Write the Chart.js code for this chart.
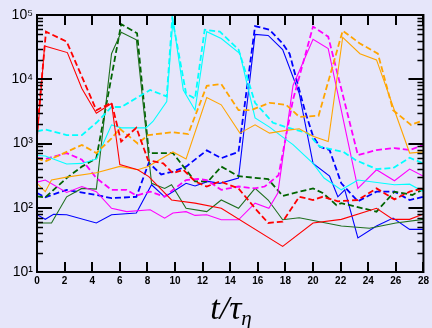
<!DOCTYPE html>
<html lang="en">
<head>
<meta charset="UTF-8">
<title>t / tau_eta</title>
<script src="https://cdn.jsdelivr.net/npm/chart.js"></script>
<style>
  html, body { margin: 0; padding: 0; background: #e6e6fa; }
  #wrap { position: relative; width: 432px; height: 328px; }
  #title { position: absolute; left: 0; width: 462px; top: 291px; text-align: center;
           font-family: 'Liberation Serif', serif; font-style: italic; font-size: 34px; line-height: 1; }
  #title sub { font-size: 21px; vertical-align: -6px; }
</style>
</head>
<body>
<div id="wrap">
  <canvas id="c" width="432" height="328"></canvas>
  <div id="title">t/τ<sub>η</sub></div>
</div>
<script>
// [t, value] pairs
const redSolid = [[0,1100],[0.55,3.3e4],[2.2,2.6e4],[3.25,7.2e3],[4.3,2950],[5.4,4200],[6.0,470],[7.3,390],[8.1,305],[9.75,132],[11.45,118],[13.35,98],[17.8,25],[20.0,58],[22.05,66],[24.6,98],[25.8,66],[27.0,66],[28,80]];
const redDashed = [[0,1500],[0.65,5.5e4],[2.15,3.85e4],[3.25,1.1e4],[4.3,3300],[5.4,4300],[6.1,1070],[6.6,1350],[7.2,1750],[8.05,550],[9.15,490],[9.85,345],[10.6,390],[11.45,257],[12.3,214],[13.25,257],[14.6,200],[15.8,98],[16.75,58],[17.8,61],[19.0,148],[20.0,132],[20.7,148],[21.8,126],[23.25,132],[24.6,200],[25.9,135],[27.0,178],[28,200]];
const greenSolid = [[0,58],[1.05,58],[2.15,148],[3.25,200],[4.3,195],[5.4,2.5e4],[6.1,5.4e4],[7.2,4.1e4],[8.3,240],[9.25,200],[9.75,228],[10.8,98],[12.3,87],[13.35,132],[14.6,98],[15.8,200],[16.75,132],[17.8,65],[19.0,70],[22.05,52],[24.1,48],[26.0,58],[28,66]];
const greenDashed = [[0,150],[0.6,145],[2.15,290],[3.25,437],[4.3,590],[5.4,1.1e4],[6.1,7.2e4],[7.25,5.2e4],[8.1,710],[9.85,710],[11.45,257],[12.4,257],[13.35,437],[14.6,310],[16.75,279],[17.8,153],[20.0,200],[20.7,170],[21.7,110],[22.05,118],[24.6,87],[25.9,178],[27.2,158],[28,195]];
const blueSolid = [[0,78],[0.6,66],[1.2,79],[2.15,78],[4.3,58],[5.4,78],[7.2,83],[8.3,228],[9.25,148],[9.85,178],[10.8,240],[11.45,218],[12.4,257],[13.25,240],[14.6,290],[15.8,5.0e4],[16.75,4.8e4],[17.8,2.9e4],[19.0,6000],[20.0,490],[21.2,310],[21.8,148],[22.3,190],[23.25,34],[24.6,52],[25.8,69],[27.0,46],[28,46]];
const blueDashed = [[0,170],[0.6,146],[2.15,190],[4.3,158],[5.4,141],[7.2,148],[8.1,500],[9.0,330],[9.85,365],[10.8,437],[12.3,780],[13.35,590],[14.6,740],[15.8,6.7e4],[16.85,5.9e4],[17.8,3.6e4],[18.3,2.5e4],[19.4,3300],[20.0,1300],[20.5,890],[21.2,790],[22.05,240],[23.25,126],[24.6,178],[25.9,178],[27.0,132],[28,148]];
const cyanSolid = [[0,650],[0.6,640],[2.15,480],[3.25,490],[4.3,575],[5.4,1950],[6.1,1750],[7.9,1750],[8.4,2200],[9.4,4500],[9.85,8.4e4],[10.6,6800],[11.45,3300],[12.3,5.5e4],[13.35,4.3e4],[14.7,2.5e4],[15.8,2500],[16.85,1800],[18.05,1150],[18.55,960],[20.0,490],[20.8,290],[22.05,190],[23.25,270],[25.9,228],[27.0,233],[28,178]];
const cyanDashed = [[0,1550],[0.6,1650],[2.15,1350],[3.25,1350],[4.3,2100],[5.4,3700],[6.1,3700],[8.2,6800],[9.4,5400],[9.8,8.9e4],[10.8,6000],[11.45,5000],[12.15,5.9e4],[13.25,5.5e4],[14.6,2.9e4],[15.8,4300],[17.1,2100],[18.05,1800],[19.6,1450],[20.5,890],[22.2,740],[23.1,550],[24.6,400],[25.8,415],[27.0,600],[28,490]];
const orangeSolid = [[0,240],[0.6,178],[1.05,270],[2.15,300],[4.3,350],[6.0,440],[7.3,390],[8.05,440],[9.85,740],[10.8,575],[12.3,5200],[13.35,4000],[14.7,1450],[15.8,1950],[16.85,1450],[18.05,1600],[19.0,1700],[20.0,1300],[21.1,1070],[22.15,4.5e4],[23.4,2.5e4],[24.6,2.0e4],[27.0,710],[28,740]];
const orangeDashed = [[0,590],[0.6,525],[2.15,740],[3.25,950],[4.3,710],[5.4,1200],[6.0,1700],[7.3,1000],[8.05,1350],[9.85,1500],[10.95,1400],[12.3,7900],[13.35,8400],[14.6,3300],[15.5,3300],[16.85,4300],[18.05,4000],[19.0,2600],[20.4,2700],[22.15,5.7e4],[23.4,3.6e4],[24.7,2.5e4],[25.8,3300],[27.1,1950],[28,2300]];
const magentaSolid = [[0,250],[0.6,270],[2.15,173],[3.25,214],[4.3,178],[5.4,98],[6.5,87],[8.2,93],[9.25,69],[9.85,83],[10.8,87],[11.45,76],[12.3,78],[13.35,65],[14.6,65],[15.8,118],[16.8,98],[17.45,170],[18.55,8000],[20.0,4.2e4],[21.1,3.0e4],[23.25,200],[24.6,390],[25.9,263],[27.0,400],[28,310]];
const magentaDashed = [[0,590],[0.6,575],[2.15,710],[3.25,560],[4.3,290],[5.4,190],[6.5,190],[7.2,155],[8.2,178],[9.25,148],[9.85,190],[10.8,270],[11.65,280],[12.3,270],[13.35,190],[14.6,214],[15.8,200],[16.5,214],[17.5,320],[18.55,4800],[20.0,6.6e4],[21.1,4.6e4],[23.25,660],[24.6,790],[25.9,850],[27.0,790],[28,950]];

const xTicks = [0,2,4,6,8,10,12,14,16,18,20,22,24,26,28];
const yTicks = [10,100,1000,10000,100000];
const yTickLabels = ['10¹','10²','10³','10⁴','10⁵'];

function series(pts, color, dashed) {
  return {
    data: pts.map(p => ({x: p[0], y: p[1]})),
    borderColor: color,
    borderWidth: dashed ? 1.8 : 1.1,
    borderDash: dashed ? [6, 3] : [],
    pointRadius: 0,
    tension: 0,
    fill: false
  };
}

const frame = {
  id: 'frame',
  afterDraw(chart) {
    const {ctx, chartArea: a, scales: {x, y}} = chart;
    ctx.save();
    ctx.strokeStyle = '#000';
    ctx.lineWidth = 2;
    ctx.strokeRect(a.left, a.top, a.right - a.left, a.bottom - a.top);
    ctx.beginPath();
    xTicks.forEach(v => {
      const px = Math.round(x.getPixelForValue(v));
      ctx.moveTo(px, a.bottom); ctx.lineTo(px, a.bottom - 10);
      ctx.moveTo(px, a.top); ctx.lineTo(px, a.top + 10);
    });
    yTicks.forEach(v => {
      const py = Math.round(y.getPixelForValue(v));
      ctx.moveTo(a.left, py); ctx.lineTo(a.left + 15, py);
      ctx.moveTo(a.right, py); ctx.lineTo(a.right - 15, py);
    });
    ctx.stroke();
    ctx.lineWidth = 1.5;
    ctx.beginPath();
    for (let d = 10; d < 100000; d *= 10) {
      for (let m = 2; m <= 9; m++) {
        const py = Math.round(y.getPixelForValue(m * d)) + 0.5;
        ctx.moveTo(a.left, py); ctx.lineTo(a.left + 6, py);
        ctx.moveTo(a.right, py); ctx.lineTo(a.right - 6, py);
      }
    }
    ctx.stroke();
    ctx.restore();
  }
};

new Chart(document.getElementById('c'), {
  type: 'line',
  data: {
    datasets: [
      series(redSolid, '#ff0000', false),
      series(redDashed, '#ff0000', true),
      series(orangeSolid, '#ffa500', false),
      series(orangeDashed, '#ffa500', true),
      series(cyanSolid, '#00ffff', false),
      series(cyanDashed, '#00ffff', true),
      series(magentaSolid, '#ff00ff', false),
      series(magentaDashed, '#ff00ff', true),
      series(greenSolid, '#1f6f1f', false),
      series(greenDashed, '#006400', true),
      series(blueSolid, '#0000ff', false),
      series(blueDashed, '#0000ff', true)
    ]
  },
  options: {
    responsive: false,
    animation: false,
    layout: { padding: { top: 15, right: 8, left: 0, bottom: 0 } },
    plugins: { legend: { display: false }, tooltip: { enabled: false } },
    scales: {
      x: {
        type: 'linear', min: 0, max: 28,
        afterBuildTicks: s => { s.ticks = xTicks.map(v => ({value: v})); },
        afterFit: s => { s.height = 56; },
        grid: { display: false, drawTicks: false },
        border: { display: false },
        ticks: { color: '#000', padding: 3, maxRotation: 0,
                 font: { family: "'Liberation Sans', Arial, sans-serif", size: 10, weight: 'bold' } }
      },
      y: {
        type: 'logarithmic', min: 10, max: 100000,
        afterBuildTicks: s => { s.ticks = yTicks.map(v => ({value: v})); },
        afterFit: s => { s.width = 37; },
        grid: { display: false, drawTicks: false },
        border: { display: false },
        ticks: { color: '#000', padding: 4,
                 callback: v => yTickLabels[yTicks.indexOf(v)] || '',
                 font: { family: "'Liberation Sans', Arial, sans-serif", size: 14 } }
      }
    }
  },
  plugins: [frame]
});
</script>
</body>
</html>
